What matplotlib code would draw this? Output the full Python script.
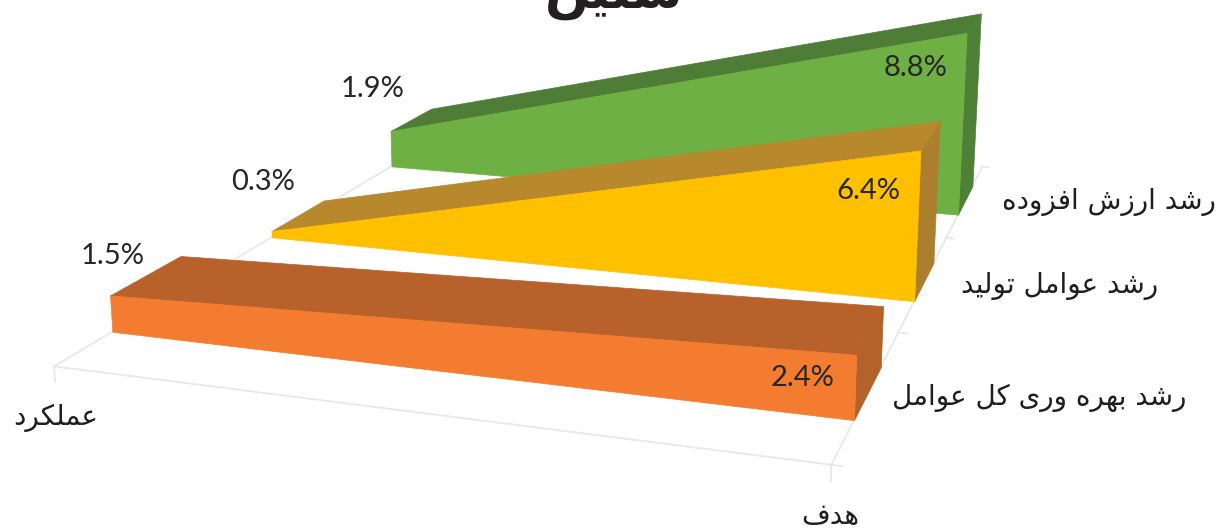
import matplotlib
matplotlib.use('Agg')
from matplotlib import pyplot as plt
from mpl_toolkits.mplot3d.art3d import Poly3DCollection

# rough persian shaping, matplotlib does not join arabic letters itself
FORMS = {
    'ا': (0xFE8D, 0xFE8E, None, None), 'ب': (0xFE8F, 0xFE90, 0xFE91, 0xFE92),
    'ت': (0xFE95, 0xFE96, 0xFE97, 0xFE98), 'د': (0xFEA9, 0xFEAA, None, None),
    'ر': (0xFEAD, 0xFEAE, None, None), 'ز': (0xFEAF, 0xFEB0, None, None),
    'س': (0xFEB1, 0xFEB2, 0xFEB3, 0xFEB4), 'ش': (0xFEB5, 0xFEB6, 0xFEB7, 0xFEB8),
    'ع': (0xFEC9, 0xFECA, 0xFECB, 0xFECC), 'ف': (0xFED1, 0xFED2, 0xFED3, 0xFED4),
    'ک': (0xFB8E, 0xFB8F, 0xFB90, 0xFB91), 'ل': (0xFEDD, 0xFEDE, 0xFEDF, 0xFEE0),
    'م': (0xFEE1, 0xFEE2, 0xFEE3, 0xFEE4), 'ن': (0xFEE5, 0xFEE6, 0xFEE7, 0xFEE8),
    'ه': (0xFEE9, 0xFEEA, 0xFEEB, 0xFEEC), 'و': (0xFEED, 0xFEEE, None, None),
    'ی': (0xFBFC, 0xFBFD, 0xFBFE, 0xFBFF),
}

def shape(word):
    out = []
    for i, c in enumerate(word):
        if c not in FORMS:
            out.append(c)
            continue
        prev = word[i-1] if i > 0 else ' '
        nxt = word[i+1] if i < len(word)-1 else ' '
        joins_prev = prev in FORMS and FORMS[prev][2] is not None
        joins_next = nxt in FORMS and FORMS[c][2] is not None
        if joins_prev and joins_next:
            out.append(chr(FORMS[c][3]))
        elif joins_prev:
            out.append(chr(FORMS[c][1]))
        elif joins_next:
            out.append(chr(FORMS[c][2]))
        else:
            out.append(chr(FORMS[c][0]))
    return ''.join(out)[::-1]

W, H = 1221, 529

title = 'سنین'
categories = ['عملکرد', 'هدف']
series = ['رشد بهره وری کل عوامل', 'رشد عوامل تولید', 'رشد ارزش افزوده']
actual = [1.5, 0.3, 1.9]
target = [2.4, 6.4, 8.8]

front_colors = ['#F47C30', '#FFC000', '#6FB045']
top_colors = ['#B8612A', '#B8892C', '#4F7D38']
side_colors = ['#B3622A', '#AC7F2E', '#4E8038']

fig = plt.figure(figsize=(W/100, H/100), dpi=100)
ax = fig.add_subplot(projection='3d')
ax.set_position([20.1/W, -187.7/H, 1119.9/W, 1119.9/H])
ax.set_axis_off()
ax.computed_zorder = False
ax.view_init(elev=13.957, azim=-72.0083)
ax.set_proj_type('persp', focal_length=0.3161)
ax.set_box_aspect((1, 1.3748, 0.3405))
ax.set_xlim(0, 1, view_margin=0)
ax.set_ylim(0, len(series), view_margin=0)
ax.set_zlim(0, 10, view_margin=0)
gap = 0.2987

# floor lines and ticks
grid = '#E8E8E8'
n = len(series)
ax.plot([0, 1], [0, 0], [0, 0], c=grid, lw=1.3, zorder=1)
ax.plot([0, 0], [0, n], [0, 0], c=grid, lw=1.3, zorder=1)
ax.plot([1, 1], [0, n], [0, 0], c=grid, lw=1.3, zorder=1)
for i in range(n+1):
    ax.plot([1, 1.012], [i, i], [0, 0], c=grid, lw=1.3, zorder=1)
for cx in (0, 1):
    ax.plot([cx, cx], [0, 0], [0, -0.6], c=grid, lw=1.3, zorder=1)

# back series first so the nearer ones cover them
for i in range(n-1, -1, -1):
    a, b = actual[i], target[i]
    y0, y1 = i + gap, i + 1 - gap
    z = 10 + (n-i)*3
    faces = [
        ([(1, y0, 0), (1, y1, 0), (1, y1, b), (1, y0, b)], side_colors[i]),
        ([(0, y0, a), (1, y0, b), (1, y1, b), (0, y1, a)], top_colors[i]),
        ([(0, y0, 0), (1, y0, 0), (1, y0, b), (0, y0, a)], front_colors[i]),
    ]
    for k, (verts, col) in enumerate(faces):
        ax.add_collection3d(Poly3DCollection([verts], facecolors=col, edgecolors=col, linewidths=0.5, zorder=z+k))

def put(x, y, s, **kw):
    return fig.text(x/W, 1-y/H, s, **kw)

# value labels, picture positions
actual_pos = [(113, 256), (263, 182), (373, 89)]
target_pos = [(803, 378), (868, 191), (916, 68)]
for i in range(n):
    put(*actual_pos[i], '%.1f%%' % actual[i], fontsize=21, family='Lato', color='#262626', ha='center', va='center')
    put(*target_pos[i], '%.1f%%' % target[i], fontsize=21, family='Lato', color='#262626', ha='center', va='center')

series_pos = [(1186, 398), (1158, 286), (1216, 202)]
for s, (x, y) in zip(series, series_pos):
    put(x, y, shape(s), fontsize=20, family='DejaVu Sans', color='#1E1E1E', ha='right', va='center')
put(56, 418, shape(categories[0]), fontsize=20, family='DejaVu Sans', color='#1E1E1E', ha='center', va='center')
put(830, 516, shape(categories[1]), fontsize=20, family='DejaVu Sans', color='#1E1E1E', ha='center', va='center')

# the title is cut by the top edge in the picture too
put(614, -4, shape(title), fontsize=37, fontweight='bold', family='DejaVu Sans', color='#231F20', ha='center', va='center')

fig.savefig('out.png', dpi=100)
